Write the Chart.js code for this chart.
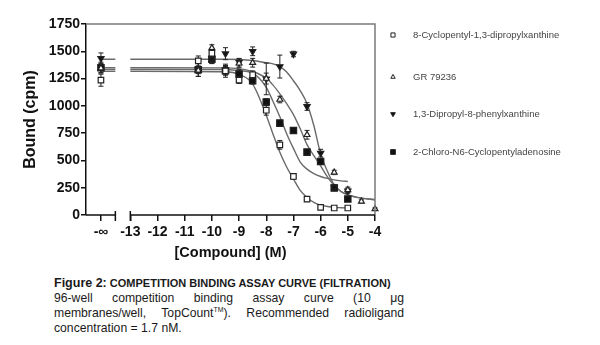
<!DOCTYPE html>
<html>
<head>
<meta charset="utf-8">
<script src="https://cdn.jsdelivr.net/npm/chart.js@4.4.0/dist/chart.umd.min.js"></script>
<style>
body{margin:0;background:#fff;}
#wrap{position:relative;width:600px;height:345px;overflow:hidden;background:#fff;}
#caption{position:absolute;left:54px;top:275px;width:350px;font-family:"Liberation Sans",Arial,sans-serif;color:#1a1a1a;}
.t1{font-weight:bold;font-size:11px;line-height:16px;white-space:nowrap;}
.t1 b{font-size:12.5px;}
.ln{font-size:12.2px;line-height:15px;text-align:justify;text-align-last:justify;white-space:nowrap;}
.ln.last{text-align-last:left;}
sup{font-size:7px;line-height:0;}
</style>
</head>
<body>
<div id="wrap">
<canvas id="chart" width="600" height="265"></canvas>
<div id="caption">
	<div class="t1"><b>Figure 2:</b> COMPETITION BINDING ASSAY CURVE (FILTRATION)</div>
	<div class="ln">96-well competition binding assay curve (10 μg</div>
	<div class="ln">membranes/well, TopCount<sup>TM</sup>). Recommended radioligand</div>
	<div class="ln last">concentration = 1.7 nM.</div>
</div>
</div>
<script>
// log [compound] (M), first entry is the "no compound" point
var logConc = ['-∞', -10.5, -10, -9.5, -9, -8.5, -8, -7.5, -7, -6.5, -6, -5.5, -5, -4.5, -4];

var dpcpxBound = [1235, 1412, 1482, 1320, 1235, 1285, 960, 643, 353, 146, 70, 64, 64, null, null];
var dpcpxSem   = [55, 45, 35, 40, 30, 35, 45, 40, 25, 20, 10, 10, 10, null, null];
var grBound    = [1345, 1325, 1530, 1330, 1390, 1395, 1250, 1058, null, 735, null, 390, 230, 124, 55];
var grSem      = [40, 30, 30, 40, 40, 40, 50, 30, null, 40, null, 20, 25, 15, 10];
var dpxBound   = [1435, 1330, 1430, 1478, 1400, 1500, 1247, 1360, 1475, 994, 567, 255, 220, null, null];
var dpxSem     = [50, 60, 40, 55, 35, 40, 145, 105, 25, 35, 35, 25, 20, null, null];
var ccpaBound  = [1350, 1330, 1427, 1322, 1292, 1230, 1035, 842, 774, 576, 490, 247, 146, null, null];
var ccpaSem    = [50, 60, 40, 60, 40, 30, 30, 25, 20, 25, 25, 20, 15, null, null];

// fitted curves
var fitX      = [-13, -9.5, -9, -8.5, -8, -7.75, -7.5, -7.25, -7, -6.75, -6.5, -6.25, -6, -5.75, -5.5, -5.25, -5, -4.5, -4];
var dpcpxFit  = [1317, 1312, 1288, 1200, 915, 740, 575, 440, 330, 225, 160, 115, 90, 78, 70, 67, 65, null, null];
var grFit     = [1350, 1348, 1340, 1315, 1253, 1190, 1110, 1020, 920, 790, 645, 545, 450, 350, 270, 215, 185, 155, 140];
var dpxFit    = [1427, 1427, 1425, 1415, 1395, 1385, 1360, 1310, 1230, 1140, 1020, 820, 560, 400, 275, 215, 185, 155, 140];
var ccpaFit   = [1335, 1333, 1322, 1300, 1170, 1040, 900, 745, 610, 485, 420, 380, 353, 335, 322, 313, 307, null, null];

var seriesNames = ['8-Cyclopentyl-1,3-dipropylxanthine', 'GR 79236', '1,3-Dipropyl-8-phenylxanthine', '2-Chloro-N6-Cyclopentyladenosine'];

var xTickLabels = ['-∞', '-13', '-12', '-11', '-10', '-9', '-8', '-7', '-6', '-5', '-4'];
var yTickStep = 250;

var NEG_INF_X = -14.08;   // where the -∞ block sits on the axis
var NEG_INF_END = -13.55; // end of the -∞ axis piece
var X_MIN = -14.63;
var xTickValues = [NEG_INF_X, -13, -12, -11, -10, -9, -8, -7, -6, -5, -4];

var FONT = '"Liberation Sans", Arial, sans-serif';

function pointData(vals, sem){
	var out = [];
	for (var i = 0; i < logConc.length; i++) {
		if (vals[i] == null) continue;
		out.push({x: logConc[i] === '-∞' ? NEG_INF_X : logConc[i], y: vals[i], err: sem[i]});
	}
	return out;
}
function fitData(vals){
	var out = [{x: NEG_INF_X, y: vals[0]}, {x: NEG_INF_END, y: vals[0]}, {x: -13.3, y: null}];
	for (var i = 0; i < fitX.length; i++) {
		if (vals[i] == null) continue;
		out.push({x: fitX[i], y: vals[i]});
	}
	return out;
}

var styles = [
	{pointStyle: 'rect', radius: 3.9, rotation: 0, fill: '#fff'},
	{pointStyle: 'triangle', radius: 3.4, rotation: 0, fill: '#fff'},
	{pointStyle: 'triangle', radius: 3.6, rotation: 180, fill: '#111'},
	{pointStyle: 'rect', radius: 4.5, rotation: 0, fill: '#111'}
];

function pointSet(i, vals, sem){
	return {
		type: 'scatter', label: seriesNames[i], data: pointData(vals, sem), order: 1,
		pointStyle: styles[i].pointStyle, pointRadius: styles[i].radius, pointRotation: styles[i].rotation,
		pointBackgroundColor: styles[i].fill, pointBorderColor: '#222', pointBorderWidth: 1.2,
		showLine: false, clip: false, isPoints: true
	};
}
function fitSet(vals){
	return {
		type: 'line', data: fitData(vals), order: 2, showLine: true, pointRadius: 0,
		borderColor: '#6a6a6a', borderWidth: 1.4, cubicInterpolationMode: 'monotone',
		spanGaps: false, fill: false, clip: false
	};
}

var decor = {
	id: 'decor',
	beforeDatasetDraw: function(chart, args){
		var ds = chart.data.datasets[args.index];
		if (!ds.isPoints) return;
		var ctx = chart.ctx, ys = chart.scales.y;
		ctx.save();
		ctx.strokeStyle = '#222';
		ctx.lineWidth = 1;
		args.meta.data.forEach(function(el, i){
			var d = ds.data[i];
			if (!d.err) return;
			var top = ys.getPixelForValue(d.y + d.err), bot = ys.getPixelForValue(d.y - d.err);
			ctx.beginPath();
			ctx.moveTo(el.x, top); ctx.lineTo(el.x, bot);
			ctx.moveTo(el.x - 2.5, top); ctx.lineTo(el.x + 2.5, top);
			ctx.moveTo(el.x - 2.5, bot); ctx.lineTo(el.x + 2.5, bot);
			ctx.stroke();
		});
		ctx.restore();
	},
	afterDraw: function(chart){
		var ctx = chart.ctx, xs = chart.scales.x, ys = chart.scales.y, a = chart.chartArea;
		var yb = ys.getPixelForValue(0);
		ctx.save();
		// grey frame top/right
		ctx.strokeStyle = '#7a7a7a';
		ctx.lineWidth = 1.5;
		ctx.beginPath();
		ctx.moveTo(a.left, a.top); ctx.lineTo(a.right, a.top); ctx.lineTo(a.right, yb);
		ctx.stroke();
		// broken x axis
		ctx.strokeStyle = '#111';
		ctx.beginPath();
		ctx.moveTo(xs.getPixelForValue(X_MIN), yb); ctx.lineTo(xs.getPixelForValue(NEG_INF_END), yb);
		ctx.moveTo(xs.getPixelForValue(-13), yb); ctx.lineTo(xs.getPixelForValue(-4), yb);
		ctx.moveTo(xs.getPixelForValue(NEG_INF_END), yb - 4); ctx.lineTo(xs.getPixelForValue(NEG_INF_END), yb + 6);
		ctx.moveTo(xs.getPixelForValue(-13), yb - 4); ctx.lineTo(xs.getPixelForValue(-13), yb + 6);
		ctx.stroke();
		// legend
		var lx = 393, tx = 413, rows = [35, 77, 114, 152];
		ctx.font = '9.5px ' + FONT;
		ctx.textBaseline = 'middle';
		for (var i = 0; i < seriesNames.length; i++) {
			ctx.fillStyle = '#444';
			ctx.fillText(seriesNames[i], tx, rows[i]);
			ctx.fillStyle = styles[i].fill;
			ctx.strokeStyle = '#222';
			ctx.lineWidth = 1;
			Chart.helpers.drawPoint(ctx, {pointStyle: styles[i].pointStyle, radius: styles[i].radius * 0.75, rotation: styles[i].rotation, borderWidth: 1}, lx, rows[i]);
		}
		ctx.restore();
	}
};

new Chart(document.getElementById('chart'), {
	type: 'scatter',
	data: {
		datasets: [
			pointSet(0, dpcpxBound, dpcpxSem),
			pointSet(1, grBound, grSem),
			pointSet(2, dpxBound, dpxSem),
			pointSet(3, ccpaBound, ccpaSem),
			fitSet(dpcpxFit),
			fitSet(grFit),
			fitSet(dpxFit),
			fitSet(ccpaFit)
		]
	},
	options: {
		responsive: false,
		animation: false,
		layout: {padding: {top: 24, right: 225, left: 0, bottom: 0}},
		plugins: {legend: {display: false}, tooltip: {enabled: false}},
		scales: {
			x: {
				type: 'linear', min: X_MIN, max: -4,
				afterBuildTicks: function(scale){
					scale.ticks = xTickValues.map(function(v){ return {value: v}; });
				},
				afterFit: function(scale){ scale.height = 50; },
				ticks: {
					autoSkip: false, maxRotation: 0, padding: 3, color: '#111',
					font: {family: FONT, size: 14, weight: 'bold'},
					callback: function(v, idx){ return xTickLabels[idx]; }
				},
				grid: {drawOnChartArea: false, drawTicks: true, tickLength: 6, color: '#111', lineWidth: 1.5},
				border: {display: false},
				title: {display: true, text: '[Compound] (M)', color: '#111', font: {family: FONT, size: 14.5, weight: 'bold'}, padding: {top: 0, bottom: 3.6}}
			},
			y: {
				min: 0, max: 1750,
				afterFit: function(scale){ scale.width = 86; },
				ticks: {
					stepSize: yTickStep, padding: 1, color: '#111', font: {family: FONT, size: 14, weight: 'bold'},
					callback: function(v){ return String(v); }
				},
				grid: {drawOnChartArea: false, drawTicks: true, tickLength: 5, color: '#111', lineWidth: 1.5},
				border: {display: true, color: '#111', width: 1.5},
				title: {display: true, text: 'Bound (cpm)', color: '#111', font: {family: FONT, size: 16, weight: 'bold'}, padding: {top: 21, bottom: 0}}
			}
		}
	},
	plugins: [decor]
});
</script>
</body>
</html>
